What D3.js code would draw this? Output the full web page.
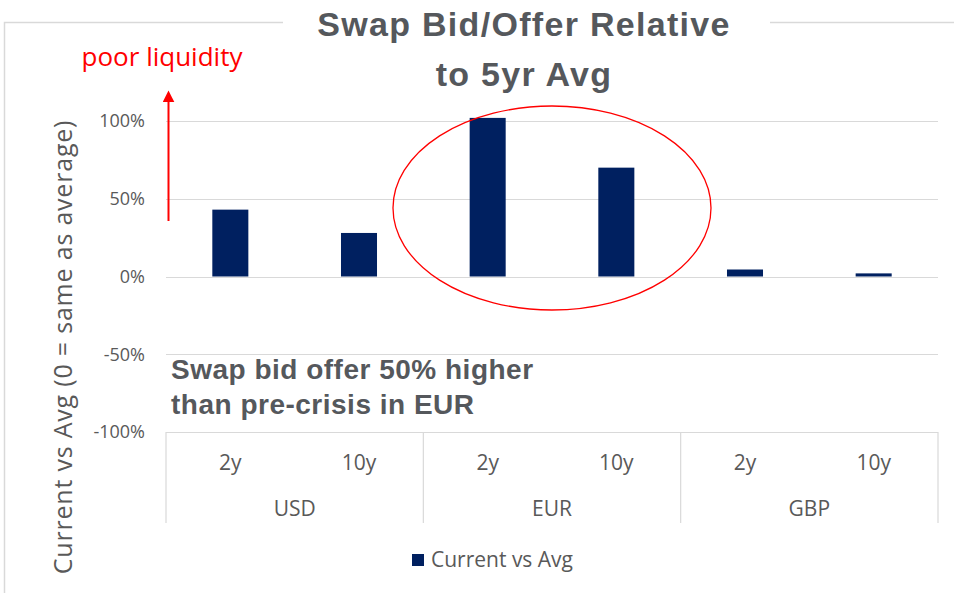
<!DOCTYPE html>
<html>
<head>
<meta charset="utf-8">
<script src="https://cdn.jsdelivr.net/npm/d3@7"></script>
<style>
  body { margin: 0; background: #fff; }
  text { font-family: "Open Sans", "Liberation Sans", sans-serif; }
  .arial { font-family: "Liberation Sans", Arial, sans-serif; font-weight: bold; }
</style>
</head>
<body>
<svg id="chart" width="954" height="593"></svg>
<script>
// data
var groups = ["USD", "EUR", "GBP"];
var tenors = ["2y", "10y"];
var values = [0.43, 0.28, 1.02, 0.70, 0.045, 0.02]; // USD 2y,10y, EUR 2y,10y, GBP 2y,10y
var yTicks = [-1, -0.5, 0, 0.5, 1];
var seriesName = "Current vs Avg";

var NAVY = "#002060",
    GREY_TXT = "#595959",
    TITLE_GREY = "#55585c",
    GRID = "#d9d9d9";

var plot = { left: 166, right: 938, top: 121, bottom: 432 };

var svg = d3.select("#chart");

var cats = [];
groups.forEach(function(g) {
    tenors.forEach(function(t) { cats.push(g + "|" + t); });
});

var x = d3.scaleBand()
    .domain(cats)
    .range([plot.left, plot.right])
    .paddingInner(0.72)
    .paddingOuter(0.36);

var xCat = d3.scaleBand()
    .domain(cats)
    .range([plot.left, plot.right]);

var y = d3.scaleLinear()
    .domain([-1, 1])
    .range([plot.bottom, plot.top]);

var pct = function(d) { return d3.format(".0%")(d).replace("\u2212", "-"); };

// outer frame with gap for title
svg.append("path")
    .attr("d", "M283,22.5 L4.5,22.5 L4.5,593")
    .attr("fill", "none")
    .attr("stroke", GRID)
    .attr("stroke-width", 1.5);
svg.append("line")
    .attr("x1", 770).attr("x2", 954)
    .attr("y1", 22.5).attr("y2", 22.5)
    .attr("stroke", GRID)
    .attr("stroke-width", 1.5);

// gridlines
svg.append("g").selectAll("line")
    .data(yTicks)
    .join("line")
    .attr("x1", plot.left).attr("x2", plot.right)
    .attr("y1", function(d) { return Math.round(y(d)) + 0.5; })
    .attr("y2", function(d) { return Math.round(y(d)) + 0.5; })
    .attr("stroke", GRID)
    .attr("stroke-width", 1.2);

// y axis labels
svg.append("g").selectAll("text")
    .data(yTicks)
    .join("text")
    .attr("x", 145)
    .attr("y", function(d) { return y(d); })
    .attr("dy", "0.35em")
    .attr("text-anchor", "end")
    .attr("fill", GREY_TXT)
    .attr("font-size", 18)
    .text(pct);

// y axis title
svg.append("text")
    .attr("transform", "translate(72,347) rotate(-90)")
    .attr("text-anchor", "middle")
    .attr("fill", GREY_TXT)
    .attr("font-size", 25)
    .attr("letter-spacing", 0.8)
    .text("Current vs Avg (0 = same as average)");

// category axis separators
var groupEdges = [0, 2, 4, 6];
svg.append("g").selectAll("line")
    .data(groupEdges)
    .join("line")
    .attr("x1", function(i) { return i < 6 ? xCat(cats[i]) : plot.right; })
    .attr("x2", function(i) { return i < 6 ? xCat(cats[i]) : plot.right; })
    .attr("y1", plot.bottom)
    .attr("y2", 523)
    .attr("stroke", GRID)
    .attr("stroke-width", 1.2);

// tenor labels
svg.append("g").selectAll("text")
    .data(cats)
    .join("text")
    .attr("x", function(d) { return xCat(d) + xCat.bandwidth() / 2; })
    .attr("y", 470)
    .attr("text-anchor", "middle")
    .attr("fill", GREY_TXT)
    .attr("font-size", 21)
    .text(function(d) { return d.split("|")[1]; });

// group labels
svg.append("g").selectAll("text")
    .data(groups)
    .join("text")
    .attr("x", function(g) { return xCat(g + "|" + tenors[0]) + xCat.bandwidth(); })
    .attr("y", 516)
    .attr("text-anchor", "middle")
    .attr("fill", GREY_TXT)
    .attr("font-size", 21)
    .text(function(g) { return g; });

// bars
svg.append("g").selectAll("rect")
    .data(values)
    .join("rect")
    .attr("x", function(d, i) { return x(cats[i]); })
    .attr("width", x.bandwidth())
    .attr("y", function(d) { return y(Math.max(0, d)); })
    .attr("height", function(d) { return Math.abs(y(d) - y(0)); })
    .attr("fill", NAVY);

// title
var title = svg.append("text")
    .attr("class", "arial")
    .attr("text-anchor", "middle")
    .attr("fill", TITLE_GREY)
    .attr("font-size", 34)
    .attr("letter-spacing", 1.3);
title.append("tspan").attr("x", 524).attr("y", 36).text("Swap Bid/Offer Relative");
title.append("tspan").attr("x", 524).attr("y", 86).text("to 5yr Avg");

// poor liquidity arrow
svg.append("defs").append("marker")
    .attr("id", "arrow")
    .attr("viewBox", "0 0 10 10")
    .attr("refX", 2).attr("refY", 5)
    .attr("markerWidth", 6).attr("markerHeight", 6)
    .attr("orient", "auto")
    .append("path")
    .attr("d", "M0,0 L10,5 L0,10 Z")
    .attr("fill", "red");

svg.append("line")
    .attr("x1", 168.5).attr("x2", 168.5)
    .attr("y1", 221).attr("y2", 100)
    .attr("stroke", "red")
    .attr("stroke-width", 2)
    .attr("marker-end", "url(#arrow)");

svg.append("text")
    .attr("x", 162)
    .attr("y", 66)
    .attr("text-anchor", "middle")
    .attr("fill", "red")
    .attr("font-size", 26)
    .text("poor liquidity");

// EUR highlight ellipse
svg.append("ellipse")
    .attr("cx", (xCat("EUR|2y") + xCat("EUR|10y") + xCat.bandwidth()) / 2)
    .attr("cy", 208)
    .attr("rx", 159)
    .attr("ry", 102)
    .attr("fill", "none")
    .attr("stroke", "red")
    .attr("stroke-width", 1.3);

// annotation
var note = svg.append("text")
    .attr("class", "arial")
    .attr("fill", TITLE_GREY)
    .attr("font-size", 28)
    .attr("letter-spacing", 0.5);
note.append("tspan").attr("x", 171).attr("y", 379).text("Swap bid offer 50% higher");
note.append("tspan").attr("x", 171).attr("y", 414).text("than pre-crisis in EUR");

// legend
var legend = svg.append("g").attr("transform", "translate(412,554)");
legend.append("rect")
    .attr("width", 12).attr("height", 12)
    .attr("fill", NAVY);
legend.append("text")
    .attr("x", 19).attr("y", 6)
    .attr("dy", "0.35em")
    .attr("fill", GREY_TXT)
    .attr("font-size", 21)
    .text(seriesName);
</script>
</body>
</html>
